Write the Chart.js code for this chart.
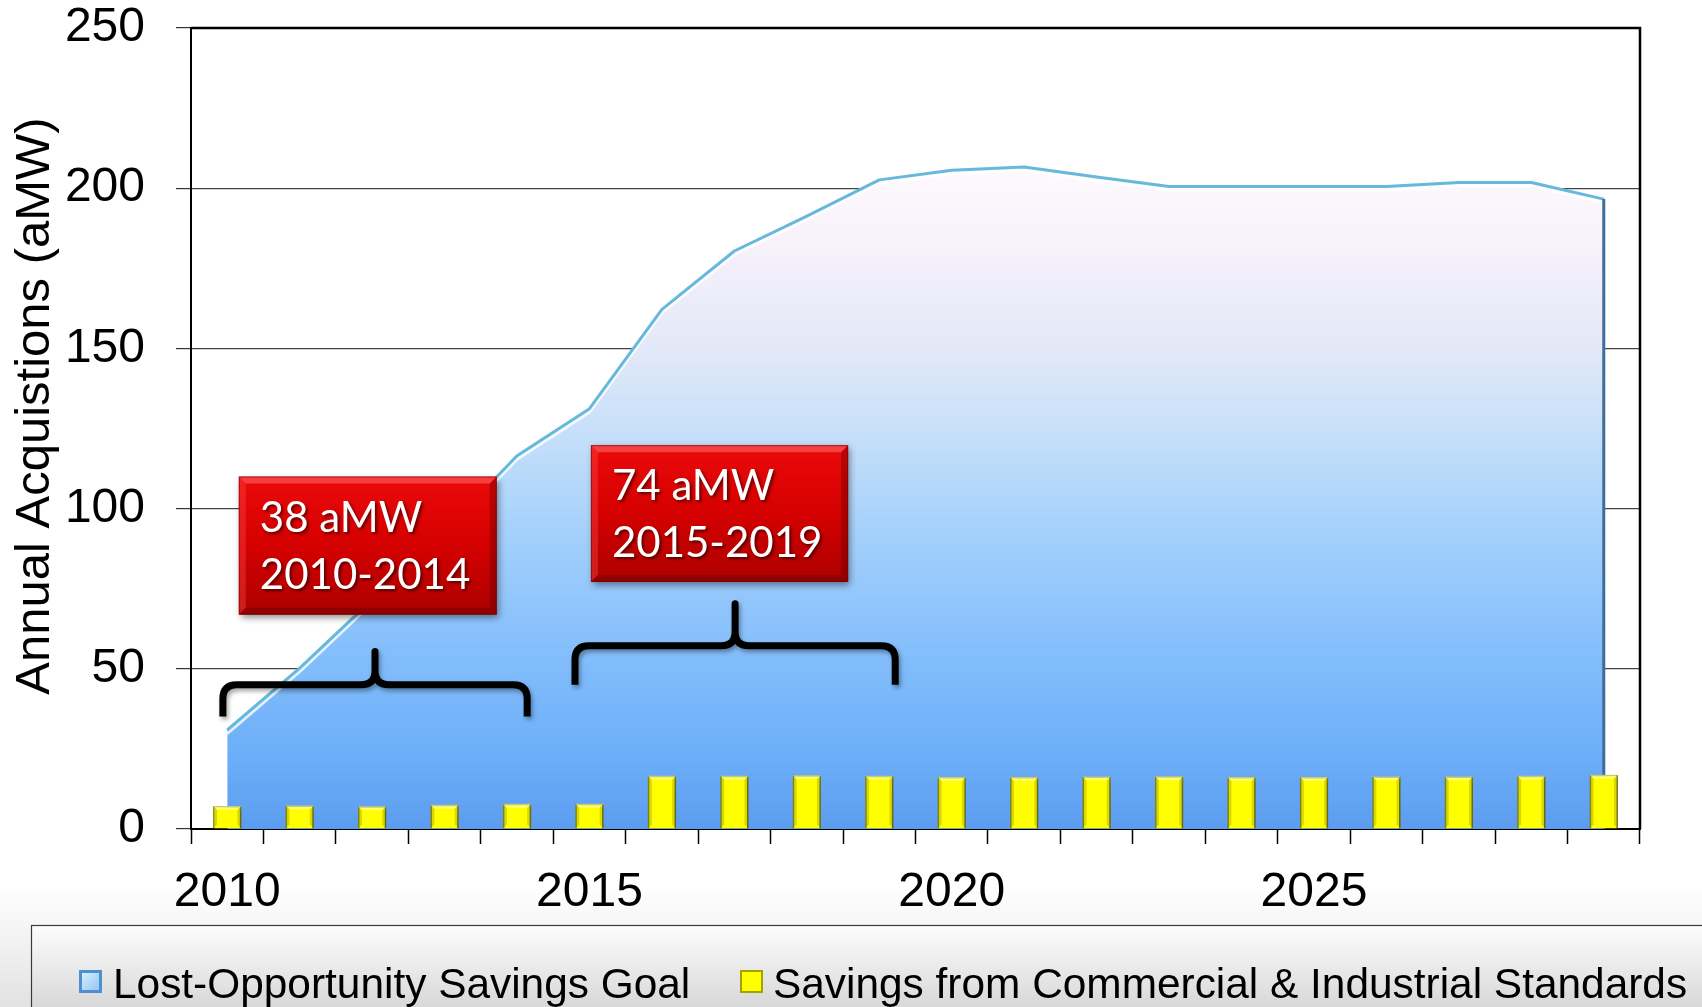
<!DOCTYPE html>
<html>
<head>
<meta charset="utf-8">
<title>Annual Acquisitions</title>
<script src="https://cdn.jsdelivr.net/npm/chart.js@4.4.0/dist/chart.umd.min.js"></script>
<style>
  html, body { margin: 0; padding: 0; background: #fff; }
  canvas { display: block; }
</style>
</head>
<body>
<canvas id="savingsChart" width="1702" height="1007"></canvas>
<script>
const years = ["2010", "2011", "2012", "2013", "2014", "2015", "2016", "2017", "2018", "2019",
               "2020", "2021", "2022", "2023", "2024", "2025", "2026", "2027", "2028", "2029"];
const lostOpportunityGoal = [30.9, 50.2, 71.5, 93, 116.5, 131.2, 162.2, 180.4, 191.3, 202.6,
                             205.6, 206.6, 203.5, 200.5, 200.5, 200.5, 200.5, 201.8, 201.8, 196.6];
const commercialStandards = [7.2, 7.3, 7.1, 7.6, 7.9, 7.9, 16.6, 16.6, 16.8, 16.6,
                             16.2, 16.2, 16.4, 16.5, 16.2, 16.2, 16.4, 16.4, 16.6, 16.9];
const labelledYears = ["2010", "2015", "2020", "2025"];

// callout boxes and braces, in category-index / aMW units
const calloutText = [["38 aMW", "2010-2014"], ["74 aMW", "2015-2019"]];
const calloutX = [[0.16, 3.72], [5.02, 8.57]];
const calloutY = [[66.9, 110], [77.1, 119.8]];
const braceX = [[-0.06, 4.14], [4.80, 9.22]];
const braceY = [[35.1, 45, 55.4], [45, 57.2, 70.3]]; // end, bar, tip

const FONT = "'Liberation Sans', Arial, sans-serif";
Chart.defaults.font.family = FONT;
Chart.defaults.color = '#000';

function areaGradient(chart) {
  const { ctx, chartArea, scales } = chart;
  if (!chartArea) return '#8cc4f8';
  const top = scales.y.getPixelForValue(210);
  const bottom = scales.y.getPixelForValue(0);
  const g = ctx.createLinearGradient(0, top, 0, bottom);
  g.addColorStop(0.00, '#fffbfe');
  g.addColorStop(0.12, '#f8f2fb');
  g.addColorStop(0.29, '#e2e8f8');
  g.addColorStop(0.43, '#c2defa');
  g.addColorStop(0.57, '#a2cffb');
  g.addColorStop(0.76, '#80bcfb');
  g.addColorStop(0.90, '#6badf8');
  g.addColorStop(1.00, '#5c9cef');
  return g;
}

function drawBrace(ctx, x1, x2, yEnd, yBar, yTip) {
  const xm = (x1 + x2) / 2, r = 14;
  ctx.beginPath();
  ctx.moveTo(x1, yEnd);
  ctx.lineTo(x1, yBar + r);
  ctx.quadraticCurveTo(x1, yBar, x1 + r, yBar);
  ctx.lineTo(xm - r, yBar);
  ctx.quadraticCurveTo(xm, yBar, xm, yBar - r);
  ctx.lineTo(xm, yTip);
  ctx.lineTo(xm, yBar - r);
  ctx.quadraticCurveTo(xm, yBar, xm + r, yBar);
  ctx.lineTo(x2 - r, yBar);
  ctx.quadraticCurveTo(x2, yBar, x2, yBar + r);
  ctx.lineTo(x2, yEnd);
  ctx.stroke();
}

function drawCallout(ctx, x1, y1, x2, y2, lines) {
  const w = x2 - x1, h = y2 - y1;
  ctx.save();
  ctx.shadowColor = 'rgba(0,0,0,0.45)';
  ctx.shadowBlur = 7;
  ctx.shadowOffsetX = 2;
  ctx.shadowOffsetY = 3;
  const g = ctx.createLinearGradient(0, y1, 0, y2);
  g.addColorStop(0, '#ec0a0a');
  g.addColorStop(0.5, '#d40000');
  g.addColorStop(1, '#ad0000');
  ctx.fillStyle = g;
  ctx.fillRect(x1, y1, w, h);
  ctx.restore();
  // bevelled edges
  const b = 7;
  ctx.save();
  ctx.fillStyle = 'rgba(255,110,110,0.55)';
  ctx.beginPath();
  ctx.moveTo(x1, y1); ctx.lineTo(x2, y1); ctx.lineTo(x2 - b, y1 + b); ctx.lineTo(x1 + b, y1 + b);
  ctx.closePath(); ctx.fill();
  ctx.fillStyle = 'rgba(255,80,80,0.35)';
  ctx.beginPath();
  ctx.moveTo(x1, y1); ctx.lineTo(x1 + b, y1 + b); ctx.lineTo(x1 + b, y2 - b); ctx.lineTo(x1, y2);
  ctx.closePath(); ctx.fill();
  ctx.fillStyle = 'rgba(90,0,0,0.35)';
  ctx.beginPath();
  ctx.moveTo(x2, y1); ctx.lineTo(x2, y2); ctx.lineTo(x2 - b, y2 - b); ctx.lineTo(x2 - b, y1 + b);
  ctx.closePath(); ctx.fill();
  ctx.beginPath();
  ctx.moveTo(x1, y2); ctx.lineTo(x2, y2); ctx.lineTo(x2 - b, y2 - b); ctx.lineTo(x1 + b, y2 - b);
  ctx.closePath(); ctx.fill();
  ctx.strokeStyle = 'rgba(120,0,0,0.6)';
  ctx.lineWidth = 1;
  ctx.strokeRect(x1 + 0.5, y1 + 0.5, w - 1, h - 1);
  ctx.restore();

  ctx.save();
  ctx.font = "42px Lato, 'Open Sans', sans-serif";
  ctx.fillStyle = '#fff';
  ctx.textAlign = 'left';
  ctx.textBaseline = 'alphabetic';
  ctx.shadowColor = 'rgba(0,0,0,0.55)';
  ctx.shadowBlur = 3;
  ctx.shadowOffsetX = 2;
  ctx.shadowOffsetY = 2;
  ctx.fillText(lines[0], x1 + 21, y1 + 55);
  ctx.fillText(lines[1], x1 + 21, y1 + 112);
  ctx.restore();
}

// bars get a soft bevel: lighter top, darker sides
function drawBarBevel(ctx, bar) {
  const { x, y, base, width } = bar.getProps(['x', 'y', 'base', 'width'], true);
  const l = x - width / 2, r = x + width / 2, t = y, b = base, e = 4;
  ctx.save();
  ctx.fillStyle = 'rgba(255,255,190,0.55)';
  ctx.beginPath();
  ctx.moveTo(l, t); ctx.lineTo(r, t); ctx.lineTo(r - e, t + e); ctx.lineTo(l + e, t + e);
  ctx.closePath(); ctx.fill();
  ctx.fillStyle = 'rgba(120,120,0,0.28)';
  ctx.beginPath();
  ctx.moveTo(r, t); ctx.lineTo(r, b); ctx.lineTo(r - e, b - e); ctx.lineTo(r - e, t + e);
  ctx.closePath(); ctx.fill();
  ctx.beginPath();
  ctx.moveTo(l, t); ctx.lineTo(l, b); ctx.lineTo(l + e, b - e); ctx.lineTo(l + e, t + e);
  ctx.closePath(); ctx.fill();
  ctx.restore();
}

const decor = {
  id: 'decor',
  beforeDraw(chart) {
    const { ctx, width, height } = chart;
    ctx.save();
    ctx.fillStyle = '#fff';
    ctx.fillRect(0, 0, width, height);
    const band = ctx.createLinearGradient(0, 885, 0, height);
    band.addColorStop(0, '#ffffff');
    band.addColorStop(1, '#e2e2e2');
    ctx.fillStyle = band;
    ctx.fillRect(0, 885, width, height - 885);
    const box = ctx.createLinearGradient(0, 925, 0, height);
    box.addColorStop(0, '#fdfdfd');
    box.addColorStop(1, '#d8d8d8');
    ctx.fillStyle = box;
    ctx.fillRect(31, 925, width, height);
    ctx.strokeStyle = '#3a3a3a';
    ctx.lineWidth = 1.2;
    ctx.strokeRect(31.5, 925.5, width + 10, height);
    ctx.restore();
  },
  beforeDatasetDraw(chart, args) {
    if (args.meta.type === 'bar') {
      const ctx = chart.ctx;
      ctx.save();
      ctx.shadowColor = 'rgba(0,0,0,0.35)';
      ctx.shadowBlur = 4;
      ctx.shadowOffsetX = 2;
      ctx.shadowOffsetY = 2;
    }
  },
  afterDatasetDraw(chart, args) {
    const ctx = chart.ctx;
    if (args.meta.type === 'bar') {
      ctx.restore();
      args.meta.data.forEach(bar => drawBarBevel(ctx, bar));
      return;
    }
    const pts = args.meta.data;
    ctx.save();
    // pale glow just under the outline
    ctx.strokeStyle = 'rgba(255,255,255,0.8)';
    ctx.lineWidth = 3;
    ctx.lineJoin = 'round';
    ctx.beginPath();
    pts.forEach((p, i) => i ? ctx.lineTo(p.x, p.y + 3.5) : ctx.moveTo(p.x, p.y + 3.5));
    ctx.stroke();
    ctx.strokeStyle = '#66b8dc';
    ctx.lineWidth = 3;
    ctx.beginPath();
    pts.forEach((p, i) => i ? ctx.lineTo(p.x, p.y) : ctx.moveTo(p.x, p.y));
    ctx.stroke();
    // dark closing edge of the area on the last year
    const last = pts[pts.length - 1];
    const y0 = chart.scales.y.getPixelForValue(0);
    ctx.strokeStyle = '#3f6c98';
    ctx.lineWidth = 3;
    ctx.beginPath();
    ctx.moveTo(last.x, last.y);
    ctx.lineTo(last.x, y0);
    ctx.stroke();
    ctx.restore();
  },
  afterDraw(chart) {
    const { ctx, chartArea: a, scales: { x, y } } = chart;
    ctx.save();
    // plot frame
    ctx.strokeStyle = '#000';
    ctx.lineWidth = 2.5;
    ctx.beginPath();
    ctx.moveTo(a.left, a.top);
    ctx.lineTo(a.right, a.top);
    ctx.lineTo(a.right, a.bottom);
    ctx.stroke();

    // braces
    ctx.strokeStyle = '#000';
    ctx.lineWidth = 7;
    ctx.lineJoin = 'round';
    ctx.shadowColor = 'rgba(0,0,0,0.35)';
    ctx.shadowBlur = 4;
    ctx.shadowOffsetX = 2;
    ctx.shadowOffsetY = 3;
    braceX.forEach((bx, i) => {
      drawBrace(ctx, x.getPixelForValue(bx[0]), x.getPixelForValue(bx[1]),
        y.getPixelForValue(braceY[i][0]), y.getPixelForValue(braceY[i][1]), y.getPixelForValue(braceY[i][2]));
    });
    ctx.restore();

    // callouts
    calloutText.forEach((lines, i) => {
      drawCallout(ctx, x.getPixelForValue(calloutX[i][0]), y.getPixelForValue(calloutY[i][1]),
        x.getPixelForValue(calloutX[i][1]), y.getPixelForValue(calloutY[i][0]), lines);
    });

    // y axis title
    ctx.save();
    ctx.translate(49, 406);
    ctx.rotate(-Math.PI / 2);
    ctx.font = '49px ' + FONT;
    ctx.fillStyle = '#000';
    ctx.textAlign = 'center';
    ctx.textBaseline = 'alphabetic';
    ctx.fillText('Annual Acquistions (aMW)', 0, 0);
    ctx.restore();

    // legend
    const ds = chart.data.datasets;
    ctx.save();
    ctx.font = '42.4px ' + FONT;
    ctx.textBaseline = 'alphabetic';
    // blue marker
    ctx.fillStyle = '#4d8fcf';
    ctx.fillRect(79, 970, 23, 23);
    const mg = ctx.createLinearGradient(79, 970, 102, 993);
    mg.addColorStop(0, '#e4f4fe');
    mg.addColorStop(1, '#86c2ee');
    ctx.fillStyle = mg;
    ctx.fillRect(82, 973, 17, 17);
    ctx.fillStyle = '#000';
    ctx.fillText(ds[0].label, 113, 998);
    // yellow marker
    ctx.fillStyle = '#a3a300';
    ctx.fillRect(740, 970, 23, 23);
    ctx.fillStyle = '#ffff00';
    ctx.fillRect(742, 972, 19, 19);
    ctx.fillStyle = '#000';
    ctx.fillText(ds[1].label, 773, 998);
    ctx.restore();
  }
};

new Chart(document.getElementById('savingsChart'), {
  type: 'bar',
  data: {
    labels: years,
    datasets: [
      {
        type: 'line',
        label: 'Lost-Opportunity Savings Goal',
        data: lostOpportunityGoal,
        fill: 'origin',
        backgroundColor: (c) => areaGradient(c.chart),
        borderColor: 'rgba(0,0,0,0)',
        borderWidth: 0,
        pointRadius: 0,
        tension: 0,
        order: 2
      },
      {
        type: 'bar',
        label: 'Savings from Commercial & Industrial Standards',
        data: commercialStandards,
        backgroundColor: '#ffff00',
        borderColor: '#8f8f00',
        borderWidth: 1.5,
        categoryPercentage: 1,
        barPercentage: 0.39,
        order: 1
      }
    ]
  },
  options: {
    responsive: false,
    animation: false,
    layout: { padding: { top: 28, right: 62, left: 0, bottom: 0 } },
    plugins: {
      legend: { display: false },
      tooltip: { enabled: false }
    },
    scales: {
      x: {
        offset: true,
        grid: { offset: true, drawOnChartArea: false, drawTicks: true, tickLength: 15, tickColor: '#000', tickWidth: 1.5 },
        border: { color: '#000', width: 2 },
        ticks: {
          autoSkip: false,
          maxRotation: 0,
          padding: 20,
          color: '#000',
          font: { size: 48 },
          callback: function (value) {
            const lbl = this.getLabelForValue(value);
            return labelledYears.includes(lbl) ? lbl : '';
          }
        },
        afterFit: (s) => { s.height = 178; s.paddingLeft = 0; s.paddingRight = 0; }
      },
      y: {
        min: 0,
        max: 250,
        grid: { color: '#444', lineWidth: 1.2, tickLength: 15, tickColor: '#333' },
        border: { color: '#000', width: 2 },
        ticks: { stepSize: 50, padding: 31, color: '#000', font: { size: 48 } },
        afterFit: (s) => { s.width = 191; s.paddingTop = 0; s.paddingBottom = 0; }
      }
    }
  },
  plugins: [decor]
});
</script>
</body>
</html>
